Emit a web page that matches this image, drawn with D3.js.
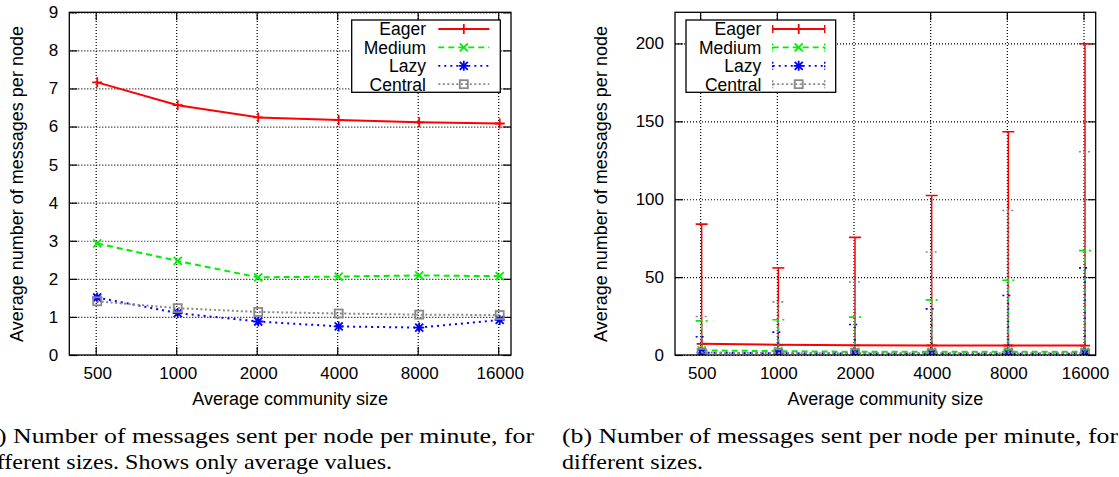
<!DOCTYPE html>
<html>
<head>
<meta charset="utf-8">
<script src="https://cdnjs.cloudflare.com/ajax/libs/d3/7.8.5/d3.min.js"></script>
<style>
  html, body { margin: 0; padding: 0; background: #fff; overflow: hidden; }
  svg { display: block; }
  text { fill: #000; }
</style>
</head>
<body>
<script>
// community sizes on the x axis
var sizes = [500, 1000, 2000, 4000, 8000, 16000];

// average messages per node per minute
var eagerAvg = [7.16, 6.56, 6.24, 6.17, 6.11, 6.08];
var mediumAvg = [2.93, 2.47, 2.04, 2.06, 2.09, 2.07];
var lazyAvg = [1.51, 1.10, 0.88, 0.75, 0.72, 0.92];
var centralAvg = [1.41, 1.23, 1.13, 1.09, 1.06, 1.05];

// top of the error bars (right panel)
var eagerHigh = [84, 55.9, 75.5, 102.4, 143.3, 199.8];
var mediumHigh = [21.9, 22.6, 24.3, 35.4, 48.0, 67.0];
var lazyHigh = [11.7, 14.7, 19.6, 29.6, 38.2, 55.9];
var centralHigh = [24.7, 34.1, 46.9, 66.1, 92.8, 130.5];

var seriesNames = ['Eager', 'Medium', 'Lazy', 'Central'];
var leftTicks = [0, 1, 2, 3, 4, 5, 6, 7, 8, 9];
var rightTicks = [0, 50, 100, 150, 200];

var captionA = ['(a) Number of messages sent per node per minute, for',
  'different sizes. Shows only average values.'];
var captionB = ['(b) Number of messages sent per node per minute, for',
  'different sizes.'];

(function () {
  var svg,
    series,
    colors,
    dashes,
    markers,
    markerPath,
    sans = '"Liberation Sans", Arial, sans-serif',
    serif = '"Liberation Serif", "Times New Roman", serif';

  colors = ['#ff0000', '#00ee00', '#0000ff', '#888888'];
  dashes = [null, '6,4', '2,4', '2,2.5'];
  markers = ['plus', 'cross', 'star', 'square'];
  markerPath = {
    plus: 'M-5,0H5M0,-5V5',
    cross: 'M-4,-4L4,4M-4,4L4,-4',
    star: 'M-5,0H5M0,-5V5M-4,-4L4,4M-4,4L4,-4'
  };

  series = [
    { name: seriesNames[0], avg: eagerAvg, high: eagerHigh },
    { name: seriesNames[1], avg: mediumAvg, high: mediumHigh },
    { name: seriesNames[2], avg: lazyAvg, high: lazyHigh },
    { name: seriesNames[3], avg: centralAvg, high: centralHigh }
  ];

  svg = d3.select('body')
    .append('svg')
    .attr('width', 1119)
    .attr('height', 477);

  function drawMarker(g, kind, x, y, color) {
    var m = g.append('g').attr('transform', 'translate(' + x + ',' + y + ')');
    if (kind === 'square') {
      m.append('rect')
        .attr('x', -4).attr('y', -4)
        .attr('width', 8).attr('height', 8)
        .attr('fill', 'none')
        .attr('stroke', color)
        .attr('stroke-width', 1.8);
    } else {
      m.append('path')
        .attr('d', markerPath[kind])
        .attr('fill', 'none')
        .attr('stroke', color)
        .attr('stroke-width', 1.8);
    }
  }

  function panel(o) {
    var g, x, y, line, clipId, legend, lg, plot;

    g = svg.append('g');

    x = d3.scaleLog().base(2)
      .domain([398.3, 17864])
      .range([o.left, o.right]);

    y = d3.scaleLinear()
      .domain([0, o.yMax])
      .range([o.bottom, o.top]);

    // dotted grid
    g.append('g')
      .attr('transform', 'translate(' + o.left + ',0)')
      .call(d3.axisLeft(y).tickValues(o.yTicks).tickSize(-(o.right - o.left)).tickFormat(''))
      .call(function (s) { s.select('.domain').remove(); })
      .selectAll('line')
      .attr('stroke', '#000')
      .attr('stroke-width', 1)
      .attr('stroke-dasharray', '1,2');

    g.append('g')
      .attr('transform', 'translate(0,' + o.bottom + ')')
      .call(d3.axisBottom(x).tickValues(sizes).tickSize(-(o.bottom - o.top)).tickFormat(''))
      .call(function (s) { s.select('.domain').remove(); })
      .selectAll('line')
      .attr('stroke', '#000')
      .attr('stroke-width', 1)
      .attr('stroke-dasharray', '1,2');

    // mirrored inward ticks, labels on left and bottom
    g.append('g')
      .attr('transform', 'translate(' + o.left + ',0)')
      .call(d3.axisLeft(y).tickValues(o.yTicks).tickSize(-8).tickPadding(11))
      .call(function (s) { s.select('.domain').remove(); })
      .selectAll('text')
      .attr('font-family', sans)
      .style('font-size', '17px');

    g.append('g')
      .attr('transform', 'translate(' + o.right + ',0)')
      .call(d3.axisRight(y).tickValues(o.yTicks).tickSize(-8).tickFormat(''))
      .call(function (s) { s.select('.domain').remove(); });

    g.append('g')
      .attr('transform', 'translate(0,' + o.bottom + ')')
      .call(d3.axisBottom(x).tickValues(sizes).tickSize(-8).tickPadding(12).tickFormat(d3.format('d')))
      .call(function (s) { s.select('.domain').remove(); })
      .selectAll('text')
      .attr('dx', 1.5)
      .attr('font-family', sans)
      .style('font-size', '17px');

    g.append('g')
      .attr('transform', 'translate(0,' + o.top + ')')
      .call(d3.axisTop(x).tickValues(sizes).tickSize(-8).tickFormat(''))
      .call(function (s) { s.select('.domain').remove(); });

    g.selectAll('.tick line').attr('stroke-width', 1.2);

    // data
    clipId = 'clip' + Math.round(o.left);
    svg.append('clipPath').attr('id', clipId)
      .append('rect')
      .attr('x', o.left).attr('y', o.top)
      .attr('width', o.right - o.left).attr('height', o.bottom - o.top);

    plot = g.append('g').attr('clip-path', 'url(#' + clipId + ')');

    line = d3.line()
      .x(function (d, i) { return x(sizes[i]) + 1.5; })
      .y(function (d) { return y(d); });

    series.forEach(function (s, k) {
      var sg = plot.append('g');

      if (o.errors) {
        s.high.forEach(function (h, i) {
          var cx = x(sizes[i]) + 1.5,
            lo = s.avg[i] - (h - s.avg[i]);
          sg.append('line')
            .attr('x1', cx).attr('x2', cx)
            .attr('y1', y(lo)).attr('y2', y(h))
            .attr('stroke', colors[k])
            .attr('stroke-width', 1.5)
            .attr('stroke-dasharray', dashes[k]);
          sg.append('line')
            .attr('x1', cx - 6).attr('x2', cx + 6)
            .attr('y1', y(h)).attr('y2', y(h))
            .attr('stroke', colors[k])
            .attr('stroke-width', 1.6)
            .attr('stroke-dasharray', dashes[k]);
        });
      }

      sg.append('path')
        .datum(s.avg)
        .attr('d', line)
        .attr('fill', 'none')
        .attr('stroke', colors[k])
        .attr('stroke-width', 2)
        .attr('stroke-dasharray', dashes[k]);

      s.avg.forEach(function (v, i) {
        drawMarker(sg, markers[k], x(sizes[i]) + 1.5, y(v), colors[k]);
      });
    });

    // frame
    g.append('rect')
      .attr('x', o.left).attr('y', o.top)
      .attr('width', o.right - o.left).attr('height', o.bottom - o.top)
      .attr('fill', 'none')
      .attr('stroke', '#000')
      .attr('stroke-width', 1.3);

    // axis titles
    g.append('text')
      .attr('x', (o.left + o.right) / 2)
      .attr('y', 405)
      .attr('text-anchor', 'middle')
      .attr('font-family', sans)
      .style('font-size', '18px')
      .text('Average community size');

    g.append('text')
      .attr('transform', 'translate(' + o.yLabelX + ',184) rotate(-90)')
      .attr('text-anchor', 'middle')
      .attr('dy', '0.35em')
      .attr('font-family', sans)
      .style('font-size', '18px')
      .text('Average number of messages per node');

    // legend
    legend = o.legend;
    lg = g.append('g');
    lg.append('rect')
      .attr('x', legend.x).attr('y', 20)
      .attr('width', legend.w).attr('height', 72.3)
      .attr('fill', '#fff')
      .attr('stroke', '#000')
      .attr('stroke-width', 1.3);

    series.forEach(function (s, k) {
      var ry = 29 + k * 18.4,
        x0 = legend.x + legend.sample0,
        x1 = legend.x + legend.sample1,
        mx = (x0 + x1) / 2;

      lg.append('text')
        .attr('x', legend.x + legend.textEnd)
        .attr('y', ry)
        .attr('dy', '0.36em')
        .attr('text-anchor', 'end')
        .attr('font-family', sans)
        .style('font-size', '17.5px')
        .text(s.name);

      lg.append('line')
        .attr('x1', x0).attr('x2', x1)
        .attr('y1', ry).attr('y2', ry)
        .attr('stroke', colors[k])
        .attr('stroke-width', k === 0 ? 2 : 1.8)
        .attr('stroke-dasharray', dashes[k]);

      if (o.errors) {
        [x0, x1].forEach(function (ex) {
          lg.append('line')
            .attr('x1', ex).attr('x2', ex)
            .attr('y1', ry - 4).attr('y2', ry + 4)
            .attr('stroke', colors[k])
            .attr('stroke-width', 1.4)
            .attr('stroke-dasharray', k === 0 ? null : '2,1.5');
        });
      }

      drawMarker(lg, markers[k], mx, ry, colors[k]);
    });
  }

  panel({
    left: 69.3, right: 511, top: 12.3, bottom: 355,
    yMax: 9, yTicks: leftTicks, errors: false, yLabelX: 17,
    legend: { x: 351.7, w: 148.6, textEnd: 74.3, sample0: 86.6, sample1: 137.6 }
  });

  panel({
    left: 675, right: 1095.7, top: 12.3, bottom: 355,
    yMax: 220, yTicks: rightTicks, errors: true, yLabelX: 601,
    legend: { x: 686, w: 149.7, textEnd: 75.3, sample0: 86.7, sample1: 138.7 }
  });

  // captions: widths follow the typeset lines, the left one is cut by the crop
  function caption(lines, x0, widths) {
    lines.forEach(function (t, i) {
      svg.append('text')
        .attr('x', x0).attr('y', 443 + i * 26)
        .style('font-family', serif)
        .style('font-size', '21px')
        .attr('textLength', widths[i])
        .attr('lengthAdjust', 'spacingAndGlyphs')
        .text(t);
    });
  }

  caption(captionA, -22, [556, 414]);
  caption(captionB, 562, [556, 141]);

}());
</script>
</body>
</html>
